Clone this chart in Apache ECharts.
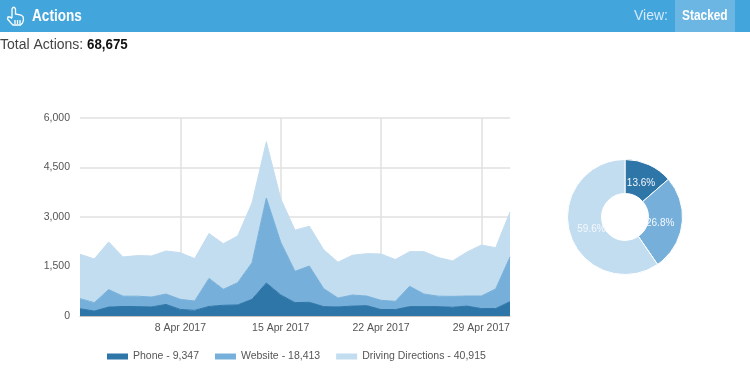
<!DOCTYPE html>
<html>
<head>
<meta charset="utf-8">
<style>
  html, body { margin: 0; padding: 0; background: #fff; }
  #main { width: 750px; height: 382px; }
</style>
<script src="https://cdn.jsdelivr.net/npm/echarts@6/dist/echarts.min.js"></script>
</head>
<body>
<div id="main"></div>
<script>
var days = ['1 Apr 2017','2 Apr 2017','3 Apr 2017','4 Apr 2017','5 Apr 2017','6 Apr 2017','7 Apr 2017','8 Apr 2017','9 Apr 2017','10 Apr 2017',
  '11 Apr 2017','12 Apr 2017','13 Apr 2017','14 Apr 2017','15 Apr 2017','16 Apr 2017','17 Apr 2017','18 Apr 2017','19 Apr 2017','20 Apr 2017',
  '21 Apr 2017','22 Apr 2017','23 Apr 2017','24 Apr 2017','25 Apr 2017','26 Apr 2017','27 Apr 2017','28 Apr 2017','29 Apr 2017','30 Apr 2017','1 May 2017'];
var phone = [220,150,270,290,285,275,350,200,170,290,325,335,505,1000,640,405,415,285,275,300,315,195,195,285,285,285,265,300,225,225,435];
var website = [305,255,530,310,315,300,315,305,285,850,485,675,1110,2575,1600,950,1100,545,270,335,290,280,250,615,380,315,330,305,380,595,1355];
var directions = [1345,1325,1445,1190,1230,1245,1305,1415,1285,1360,1380,1415,1810,1705,1320,1245,1205,1180,1085,1205,1285,1405,1265,1050,1285,1170,1075,1335,1545,1250,1360];

var names = ['Phone - 9,347', 'Website - 18,413', 'Driving Directions - 40,915'];
var totals = [9347, 18413, 40915];
var colors = ['#2e75a8', '#76b0da', '#c2dcf0'];
var FONT = '"Liberation Sans", Arial, sans-serif';

// nudges for the donut labels, they sit nearer the hole than the default
var pieLabelDx = [-2, -8, 8];
var pieLabelDy = [6, 1, -1];

function showEvery7(i) {
  return i > 0 && i % 7 == 0;
}

function areaSeries(idx, values) {
  return {
    name: names[idx],
    type: 'line',
    stack: 'actions',
    data: values,
    symbol: 'none',
    lineStyle: { width: 1, color: colors[idx] },
    itemStyle: { color: colors[idx] },
    areaStyle: { color: colors[idx], opacity: 1 }
  };
}

// little hand icon in the header
function iconLine(points) {
  return {
    type: 'polyline',
    shape: { points: points },
    style: { fill: null, stroke: '#fff', lineWidth: 1.3 }
  };
}

var chart = echarts.init(document.getElementById('main'));
chart.setOption({
  animation: false,
  textStyle: { fontFamily: FONT },
  grid: { left: 80, right: 240, top: 118, bottom: 66 },
  xAxis: {
    type: 'category',
    boundaryGap: false,
    data: days,
    axisLine: { show: true, lineStyle: { color: '#c9c4bd', width: 1 } },
    axisTick: { show: false },
    axisLabel: { interval: function (i) { return showEvery7(i); }, color: '#555', fontSize: 10.5, margin: 7, fontFamily: FONT },
    splitLine: { show: true, interval: function (i) { return showEvery7(i); }, lineStyle: { color: '#e0e0e0', width: 1.5 } }
  },
  yAxis: {
    type: 'value',
    min: 0,
    max: 6000,
    interval: 1500,
    axisLine: { show: false },
    axisTick: { show: false },
    axisLabel: { color: '#555', fontSize: 10.5, margin: 10, fontFamily: FONT },
    splitLine: { lineStyle: { color: '#e0e0e0', width: 1.5 } }
  },
  legend: {
    left: 107,
    top: 351,
    padding: 0,
    itemWidth: 21,
    itemHeight: 6,
    itemGap: 16,
    icon: 'rect',
    data: names,
    textStyle: { color: '#555', fontSize: 10.5, fontFamily: FONT }
  },
  series: [
    areaSeries(0, phone),
    areaSeries(1, website),
    areaSeries(2, directions),
    {
      type: 'pie',
      center: [625, 217],
      radius: [23.5, 57.5],
      startAngle: 90,
      clockwise: true,
      silent: true,
      itemStyle: { borderColor: '#fff', borderWidth: 1 },
      label: {
        position: 'inside',
        formatter: function (p) { return p.percent.toFixed(1) + '%'; },
        color: '#f4f8fc',
        fontSize: 10,
        fontFamily: FONT
      },
      labelLayout: function (params) {
        return { dx: pieLabelDx[params.dataIndex], dy: pieLabelDy[params.dataIndex] };
      },
      labelLine: { show: false },
      data: [
        { name: names[0], value: totals[0], itemStyle: { color: colors[0] } },
        { name: names[1], value: totals[1], itemStyle: { color: colors[1] } },
        { name: names[2], value: totals[2], itemStyle: { color: colors[2] } }
      ]
    }
  ],
  graphic: [
    { type: 'rect', shape: { x: 0, y: 0, width: 750, height: 32 }, style: { fill: '#42a5dc' } },
    { type: 'rect', shape: { x: 675, y: 0, width: 60, height: 32 }, style: { fill: '#6cb6e3' } },
    iconLine([[12,18],[12,9],[13,7.5],[14.5,7.5],[15.5,9],[15.5,14],[21,15],[23,16.5],[23.5,20],[22.5,23],[20.5,25],[13,25],[11,23],[7.5,19],[8,17],[10,17],[12,18.5]]),
    iconLine([[15,20],[15,24]]),
    iconLine([[17.5,20],[17.5,24]]),
    iconLine([[20,20],[20,24]]),
    { type: 'text', x: 32, y: 8, scaleX: 0.8, style: { text: 'Actions', fill: '#fff', font: 'bold 17px ' + FONT } },
    { type: 'text', x: 634, y: 9, style: { text: 'View:', fill: '#d5eafa', font: '14px ' + FONT } },
    { type: 'text', x: 682, y: 9, scaleX: 0.85, style: { text: 'Stacked', fill: '#fff', font: 'bold 14px ' + FONT } },
    { type: 'text', x: 0, y: 38, style: { text: 'Total Actions:', fill: '#444', font: '14px ' + FONT } },
    { type: 'text', x: 87, y: 38, scaleX: 0.95, style: { text: '68,675', fill: '#111', font: 'bold 14px ' + FONT } }
  ]
});
</script>
</body>
</html>
